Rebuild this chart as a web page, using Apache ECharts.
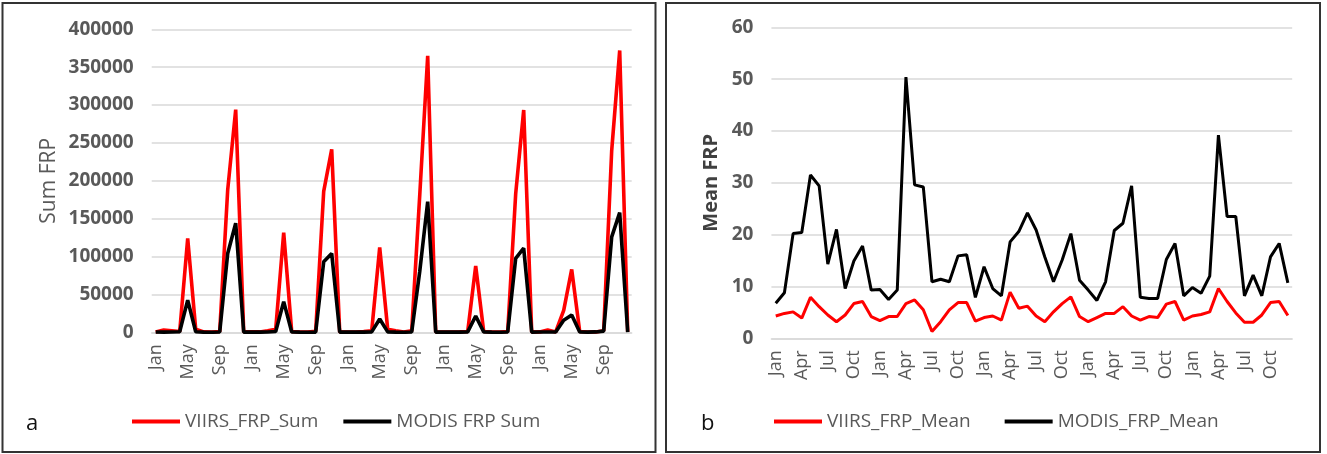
<!DOCTYPE html>
<html>
<head>
<meta charset="utf-8">
<script src="https://cdn.jsdelivr.net/npm/echarts@6/dist/echarts.min.js"></script>
<style>
html,body{margin:0;padding:0;background:#fff;}
#chart{width:1327px;height:454px;}
</style>
</head>
<body>
<div id="chart"></div>
<script>
// ---- data ----
const monthNames = ['Jan','Feb','Mar','Apr','May','Jun','Jul','Aug','Sep','Oct','Nov','Dec'];
const nYears = 5;
const categories = [];
for (let y = 0; y < nYears; y++) for (const m of monthNames) categories.push(m);

const viirsSum = [
  500, 3000, 2000, 1000, 124000, 4000, 500, 300, 1000, 188000, 294000, 500,
  500, 500, 2000, 4000, 131500, 1000, 300, 300, 1500, 186000, 241500, 300,
  300, 300, 1000, 2000, 112000, 4000, 2000, 500, 2000, 180000, 365000, 300,
  300, 300, 500, 1000, 87600, 1000, 300, 300, 1000, 183000, 293500, 300,
  500, 3000, 500, 29000, 83000, 1000, 300, 500, 2000, 240000, 372000, 500
];
const modisSum = [
  300, 200, 300, 800, 42500, 800, 200, 100, 300, 104000, 144000, 200,
  200, 200, 300, 1000, 40500, 500, 200, 100, 200, 93000, 104000, 200,
  200, 200, 200, 500, 17600, 500, 200, 100, 300, 80000, 172500, 200,
  200, 200, 200, 500, 21600, 500, 200, 100, 300, 97700, 111000, 200,
  300, 300, 300, 16000, 22900, 500, 200, 500, 1500, 126000, 158000, 200
];
const viirsMean = [
  4.3, 4.8, 5.1, 3.9, 7.9, 6.1, 4.5, 3.2, 4.5, 6.7, 7.1, 4.2,
  3.4, 4.2, 4.2, 6.7, 7.4, 5.5, 1.3, 3.2, 5.5, 6.9, 6.9, 3.3,
  4.0, 4.3, 3.5, 8.9, 5.8, 6.2, 4.3, 3.2, 5.1, 6.7, 8.0, 4.2,
  3.2, 4.0, 4.8, 4.8, 6.1, 4.3, 3.5, 4.2, 4.0, 6.6, 7.1, 3.5,
  4.3, 4.6, 5.1, 9.6, 7.1, 4.9, 3.1, 3.1, 4.5, 6.9, 7.1, 4.4
];
const modisMean = [
  6.75, 8.8, 20.2, 20.4, 31.5, 29.4, 14.3, 21.0, 9.6, 14.9, 17.8, 9.3,
  9.4, 7.5, 9.3, 50.4, 29.6, 29.2, 10.9, 11.4, 10.9, 15.9, 16.1, 7.9,
  13.8, 9.6, 8.2, 18.6, 20.6, 24.2, 20.9, 15.7, 10.9, 15.1, 20.2, 11.2,
  9.3, 7.3, 10.9, 20.8, 22.2, 29.4, 7.9, 7.7, 7.7, 15.2, 18.3, 8.2,
  9.8, 8.7, 12.0, 39.2, 23.5, 23.5, 8.2, 12.2, 8.2, 15.7, 18.3, 10.7
];
const seriesNames = ['VIIRS_FRP_Sum', 'MODIS FRP Sum', 'VIIRS_FRP_Mean', 'MODIS_FRP_Mean'];
const axisNames = ['Sum FRP', 'Mean FRP'];
const panelLetters = ['a', 'b'];

// ---- chart ----
const FONT = '"Open Sans", "Noto Sans", sans-serif';
const GRAY = '#595959';
const chart = echarts.init(document.getElementById('chart'));

function xAxis(gridIndex, interval) {
  return {
    type: 'category', gridIndex, data: categories, boundaryGap: true,
    axisTick: { show: false },
    axisLine: { lineStyle: { color: '#d9d9d9', width: 1.5 } },
    axisLabel: { interval, rotate: 90, margin: 12, fontSize: 18, color: GRAY, fontFamily: FONT }
  };
}

chart.setOption({
  animation: false,
  backgroundColor: '#fff',
  grid: [
    { left: 151.7, top: 29.3, width: 480, height: 303 },
    { left: 771.4, top: 27.3, width: 520.8, height: 311 }
  ],
  xAxis: [xAxis(0, 3), xAxis(1, 2)],
  yAxis: [
    {
      type: 'value', gridIndex: 0, min: 0, max: 400000, interval: 50000,
      name: axisNames[0], nameLocation: 'middle', nameGap: 92,
      nameTextStyle: { fontSize: 21, color: GRAY, fontFamily: FONT },
      axisLine: { show: false }, axisTick: { show: false },
      axisLabel: { margin: 18, fontSize: 19, fontWeight: 'bold', color: GRAY, fontFamily: FONT,
                   formatter: v => String(v) },
      splitLine: { lineStyle: { color: '#d9d9d9', width: 1.5 } }
    },
    {
      type: 'value', gridIndex: 1, min: 0, max: 60, interval: 10,
      name: axisNames[1], nameLocation: 'middle', nameGap: 50,
      nameTextStyle: { fontSize: 20, fontWeight: 'bold', color: '#404040', fontFamily: FONT },
      axisLine: { show: false }, axisTick: { show: false },
      axisLabel: { margin: 18, fontSize: 19, fontWeight: 'bold', color: GRAY, fontFamily: FONT },
      splitLine: { lineStyle: { color: '#d9d9d9', width: 1.5 } }
    }
  ],
  legend: [
    {
      data: [seriesNames[0], seriesNames[1]], left: 127, top: 407,
      icon: 'rect', itemWidth: 48, itemHeight: 4, itemGap: 25,
      textStyle: { fontSize: 19, color: GRAY, fontFamily: FONT }
    },
    {
      data: [seriesNames[2], seriesNames[3]], left: 769, top: 407,
      icon: 'rect', itemWidth: 48, itemHeight: 4, itemGap: 34,
      textStyle: { fontSize: 19, color: GRAY, fontFamily: FONT }
    }
  ],
  series: [
    { name: seriesNames[0], type: 'line', xAxisIndex: 0, yAxisIndex: 0, data: viirsSum,
      showSymbol: false, lineStyle: { color: '#ff0000', width: 3.6 }, itemStyle: { color: '#ff0000' } },
    { name: seriesNames[1], type: 'line', xAxisIndex: 0, yAxisIndex: 0, data: modisSum,
      showSymbol: false, lineStyle: { color: '#000000', width: 3.6 }, itemStyle: { color: '#000000' } },
    { name: seriesNames[2], type: 'line', xAxisIndex: 1, yAxisIndex: 1, data: viirsMean,
      showSymbol: false, lineStyle: { color: '#ff0000', width: 3 }, itemStyle: { color: '#ff0000' } },
    { name: seriesNames[3], type: 'line', xAxisIndex: 1, yAxisIndex: 1, data: modisMean,
      showSymbol: false, lineStyle: { color: '#000000', width: 3 }, itemStyle: { color: '#000000' } }
  ],
  graphic: [
    { type: 'rect', shape: { x: 2.5, y: 3, width: 653, height: 449 }, silent: true,
      style: { fill: null, stroke: '#333', lineWidth: 2 } },
    { type: 'rect', shape: { x: 666, y: 3, width: 654, height: 449 }, silent: true,
      style: { fill: null, stroke: '#333', lineWidth: 2 } },
    { type: 'text', left: 26, top: 413, silent: true,
      style: { text: panelLetters[0], fontSize: 22, fill: '#111', fontFamily: FONT } },
    { type: 'text', left: 701, top: 413, silent: true,
      style: { text: panelLetters[1], fontSize: 22, fill: '#111', fontFamily: FONT } }
  ]
});
</script>
</body>
</html>
